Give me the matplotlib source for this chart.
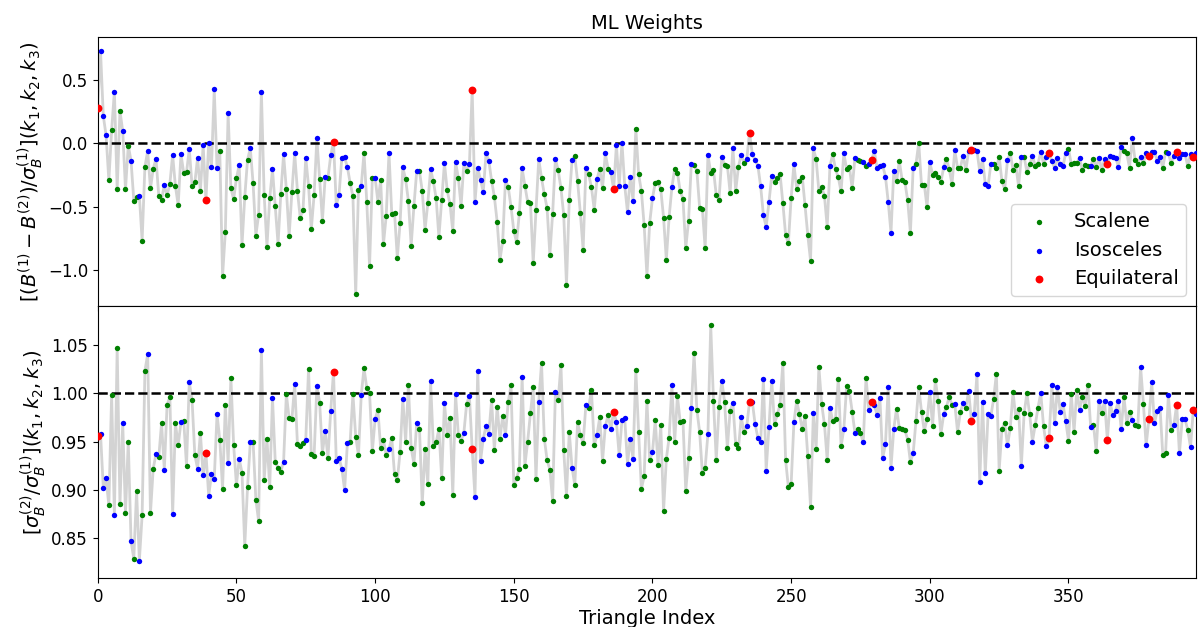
import numpy as np
import matplotlib
matplotlib.use('Agg')
import matplotlib.pyplot as plt

# ---- triangle configuration (bins of k1<=k2<=k3) ----
N_BINS = 14
TRI_MARGIN = 2  # k3 <= k1 + k2 + margin (in bin units)

# ---- data ----
mean_diff = [
 0.282, 0.726, 0.216, 0.063, -0.292, 0.103, 0.408, -0.363, 0.255, 0.097,
 -0.363, -0.018, -0.137, -0.450, -0.420, -0.413, -0.766, -0.184, -0.061, -0.355,
 -0.200, -0.121, -0.413, -0.442, -0.329, -0.410, -0.318, -0.092, -0.337, -0.487,
 -0.084, -0.234, -0.229, -0.045, -0.334, -0.308, -0.116, -0.376, -0.013, -0.447,
 0.005, -0.187, 0.424, -0.192, -0.063, -1.045, -0.697, 0.237, -0.355, -0.440,
 -0.274, -0.171, -0.803, -0.424, -0.129, -0.039, -0.313, -0.726, -0.563, 0.405,
 -0.408, -0.813, -0.434, -0.205, -0.497, -0.792, -0.397, -0.087, -0.363, -0.729,
 -0.382, -0.079, -0.376, -0.587, -0.524, -0.113, -0.337, -0.674, -0.408, 0.039,
 -0.279, -0.608, -0.266, -0.271, -0.095, 0.011, -0.487, -0.403, -0.113, -0.111,
 -0.187, -0.311, -0.418, -1.189, -0.371, -0.337, -0.074, -0.463, -0.966, -0.271,
 -0.271, -0.458, -0.292, -0.795, -0.571, -0.076, -0.553, -0.547, -0.900, -0.629,
 -0.189, -0.284, -0.453, -0.805, -0.492, -0.218, -0.221, -0.376, -0.679, -0.471,
 -0.205, -0.300, -0.432, -0.739, -0.442, -0.155, -0.371, -0.479, -0.689, -0.147,
 -0.271, -0.495, -0.155, -0.218, -0.163, 0.416, -0.461, -0.195, -0.289, -0.382,
 -0.076, -0.137, -0.295, -0.421, -0.618, -0.918, -0.771, -0.287, -0.345, -0.500,
 -0.687, -0.779, -0.550, -0.197, -0.332, -0.461, -0.466, -0.942, -0.526, -0.124,
 -0.274, -0.400, -0.508, -0.876, -0.555, -0.121, -0.211, -0.353, -0.563, -1.116,
 -0.442, -0.132, -0.103, -0.297, -0.550, -0.837, -0.192, -0.245, -0.347, -0.521,
 -0.282, -0.200, -0.353, -0.079, -0.200, -0.226, -0.363, -0.013, -0.334, 0.005,
 -0.334, -0.542, -0.266, -0.450, 0.116, -0.242, -0.374, -0.645, -1.042, -0.626,
 -0.432, -0.311, -0.305, -0.363, -0.584, -0.916, -0.582, -0.347, -0.203, -0.232,
 -0.376, -0.439, -0.824, -0.613, -0.163, -0.171, -0.216, -0.505, -0.518, -0.826,
 -0.089, -0.234, -0.211, -0.408, -0.445, -0.105, -0.171, -0.176, -0.389, -0.037,
 -0.374, -0.184, -0.089, -0.153, -0.124, 0.084, -0.084, -0.132, -0.176, -0.337,
 -0.566, -0.658, -0.463, -0.255, -0.305, -0.276, -0.242, -0.466, -0.721, -0.787,
 -0.429, -0.166, -0.358, -0.300, -0.261, -0.487, -0.724, -0.924, -0.039, -0.124,
 -0.376, -0.345, -0.413, -0.658, -0.176, -0.087, -0.205, -0.268, -0.379, -0.079,
 -0.203, -0.187, -0.353, -0.113, -0.132, -0.137, -0.147, -0.176, -0.166, -0.129,
 -0.063, -0.195, -0.182, -0.174, -0.261, -0.461, -0.703, -0.218, -0.300, -0.139,
 -0.287, -0.303, -0.447, -0.703, -0.192, -0.163, 0.003, -0.329, -0.324, -0.503,
 -0.147, -0.247, -0.234, -0.266, -0.303, -0.189, -0.121, -0.205, -0.321, -0.055,
 -0.192, -0.192, -0.097, -0.211, -0.058, -0.053, -0.050, -0.061, -0.221, -0.126,
 -0.321, -0.339, -0.161, -0.163, -0.197, -0.105, -0.300, -0.361, -0.134, -0.076,
 -0.208, -0.174, -0.337, -0.105, -0.105, -0.226, -0.166, -0.100, -0.176, -0.163,
 -0.066, -0.161, -0.105, -0.079, -0.137, -0.197, -0.118, -0.166, -0.182, -0.076,
 -0.045, -0.163, -0.155, -0.153, -0.113, -0.213, -0.174, -0.176, -0.176, -0.124,
 -0.189, -0.113, -0.211, -0.124, -0.166, -0.097, -0.105, -0.113, -0.184, -0.026,
 -0.061, -0.079, -0.192, 0.042, -0.132, -0.161, -0.108, -0.153, -0.076, -0.097,
 -0.071, -0.066, -0.137, -0.111, -0.192, -0.066, -0.079, -0.158, -0.097, -0.068,
 -0.118, -0.084, -0.084, -0.179, -0.084, -0.111, -0.076,
]

sigma_ratio = [
 0.956, 0.958, 0.902, 0.912, 0.884, 0.998, 0.874, 1.047, 0.885, 0.969,
 0.876, 0.950, 0.847, 0.829, 0.899, 0.827, 0.874, 1.023, 1.040, 0.876,
 0.922, 0.937, 0.934, 0.969, 0.921, 0.988, 0.996, 0.875, 0.969, 0.946,
 0.970, 0.971, 0.925, 1.011, 0.993, 0.936, 0.922, 0.959, 0.915, 0.938,
 0.894, 0.916, 0.911, 0.978, 0.952, 0.901, 0.988, 0.928, 1.016, 0.946,
 0.905, 0.932, 0.918, 0.842, 0.903, 0.949, 0.950, 0.890, 0.868, 1.045,
 0.910, 0.953, 0.903, 0.995, 0.929, 0.923, 0.919, 0.929, 0.999, 0.974,
 0.973, 1.009, 0.947, 0.945, 0.948, 0.952, 1.025, 0.937, 0.935, 1.007,
 0.990, 0.938, 0.961, 0.933, 0.982, 1.022, 0.930, 0.933, 0.922, 0.900,
 0.948, 0.950, 0.999, 0.955, 0.936, 0.998, 1.026, 1.005, 1.000, 0.940,
 0.973, 0.983, 0.943, 0.952, 0.936, 0.942, 0.954, 0.916, 0.910, 0.939,
 0.994, 0.950, 1.008, 0.943, 0.927, 0.969, 0.963, 0.886, 0.942, 0.906,
 1.012, 0.945, 0.949, 0.963, 0.912, 0.990, 0.957, 0.974, 0.895, 0.999,
 0.957, 0.951, 0.959, 0.989, 0.997, 0.942, 0.893, 1.023, 0.930, 0.953,
 0.966, 0.958, 0.993, 0.941, 0.986, 0.953, 0.976, 0.957, 0.991, 1.008,
 0.905, 0.912, 0.922, 1.017, 0.925, 0.950, 0.979, 1.006, 0.911, 0.991,
 1.031, 0.953, 0.931, 0.921, 0.889, 1.001, 0.993, 1.029, 0.941, 0.894,
 0.960, 0.923, 0.905, 0.970, 0.957, 0.948, 0.988, 0.985, 1.003, 0.946,
 0.957, 0.975, 0.930, 0.966, 0.977, 0.963, 0.981, 0.970, 0.936, 0.972,
 0.974, 0.927, 0.953, 0.932, 1.024, 0.960, 0.901, 0.914, 0.992, 0.931,
 0.939, 0.972, 0.926, 0.967, 0.878, 0.932, 0.954, 1.008, 0.950, 0.997,
 0.970, 0.971, 0.899, 0.933, 0.985, 1.041, 0.983, 0.960, 0.917, 0.923,
 0.958, 1.070, 0.992, 0.931, 0.986, 1.013, 0.991, 0.943, 0.982, 0.990,
 0.947, 0.943, 0.975, 0.960, 0.966, 0.991, 0.991, 0.968, 0.954, 0.949,
 1.015, 0.920, 0.965, 1.013, 0.968, 0.978, 0.988, 1.031, 0.931, 0.903,
 0.906, 0.970, 0.992, 0.978, 0.963, 0.976, 0.935, 0.882, 0.979, 0.942,
 1.027, 0.989, 0.968, 0.931, 0.985, 0.971, 0.973, 1.015, 0.945, 0.963,
 1.007, 1.002, 0.981, 0.959, 0.963, 0.959, 0.949, 1.016, 0.983, 0.991,
 0.988, 0.977, 0.995, 0.933, 0.947, 1.006, 0.923, 0.963, 0.984, 0.964,
 0.963, 0.962, 0.952, 0.929, 0.938, 0.971, 1.006, 0.981, 0.961, 0.973,
 1.001, 0.966, 1.014, 0.992, 0.958, 0.978, 0.986, 0.996, 0.988, 0.989,
 0.960, 0.980, 0.990, 0.985, 1.002, 0.971, 0.978, 1.020, 0.908, 0.991,
 0.917, 0.978, 0.976, 0.994, 1.020, 0.920, 0.963, 0.969, 0.946, 0.964,
 1.001, 0.975, 0.984, 0.925, 0.979, 1.000, 0.978, 0.950, 0.967, 0.985,
 1.000, 0.966, 0.945, 0.954, 1.008, 0.969, 1.006, 0.981, 0.989, 0.971,
 0.951, 0.999, 0.960, 1.003, 0.983, 0.996, 0.987, 1.008, 0.965, 0.967,
 0.940, 0.992, 0.979, 0.992, 0.952, 0.990, 0.977, 0.982, 0.992, 0.963,
 0.996, 0.969, 0.981, 0.972, 0.967, 0.966, 1.027, 0.989, 0.946, 0.973,
 1.011, 0.969, 0.982, 0.985, 0.936, 0.938, 0.998, 0.962, 0.967, 0.988,
 0.938, 0.973, 0.973, 0.962, 0.944, 0.983, 0.978,
]

type_names = ['Scalene', 'Isosceles', 'Equilateral']
type_codes = ['S', 'I', 'E']
type_colors = ['green', 'blue', 'red']
type_sizes = [15, 15, 32]

# triangle types in index order
tri_types = []
for a in range(N_BINS):
    for b in range(a, N_BINS):
        for c in range(b, min(N_BINS - 1, a + b + TRI_MARGIN) + 1):
            if a == b == c:
                tri_types.append('E')
            elif a == b or b == c:
                tri_types.append('I')
            else:
                tri_types.append('S')

n = len(mean_diff)
idx = np.arange(n)
types = np.array(tri_types[:n])
y1 = np.array(mean_diff)
y2 = np.array(sigma_ratio)

fig = plt.figure(figsize=(11.98, 6.27), dpi=100)
ax1 = fig.add_axes([0.0816, 0.512, 0.9168, 0.429])
ax2 = fig.add_axes([0.0816, 0.0781, 0.9168, 0.4339], sharex=ax1)

for ax, y, ref in [(ax1, y1, 0.0), (ax2, y2, 1.0)]:
    ax.plot(idx, y, color='lightgray', lw=2, zorder=1)
    for code, name, col, s in zip(type_codes, type_names, type_colors, type_sizes):
        m = types == code
        ax.scatter(idx[m], y[m], c=col, s=s, linewidths=0, zorder=3, label=name)
    ax.axhline(ref, color='black', ls='--', lw=1.8, zorder=2)
    ax.tick_params(labelsize=12)

ax1.set_xlim(0, 396)
ax1.set_ylim(-1.28, 0.837)
ax2.set_ylim(0.809, 1.090)
ax1.set_yticks([0.5, 0.0, -0.5, -1.0])
ax2.set_yticks([0.85, 0.90, 0.95, 1.00, 1.05])
ax2.set_xticks([0, 50, 100, 150, 200, 250, 300, 350])
plt.setp(ax1.get_xticklabels(), visible=False)

ax1.set_title('ML Weights', fontsize=14)
ax1.set_ylabel(r'$[(B^{(1)}-B^{(2)})/\sigma_B^{(1)}](k_1,k_2,k_3)$', fontsize=14, labelpad=2)
ax2.set_ylabel(r'$[\sigma_B^{(2)}/\sigma_B^{(1)}](k_1,k_2,k_3)$', fontsize=14, labelpad=2)
ax2.set_xlabel('Triangle Index', fontsize=14, labelpad=2)
ax1.legend(loc='lower right', fontsize=14)

fig.savefig('out.png', dpi=100)
